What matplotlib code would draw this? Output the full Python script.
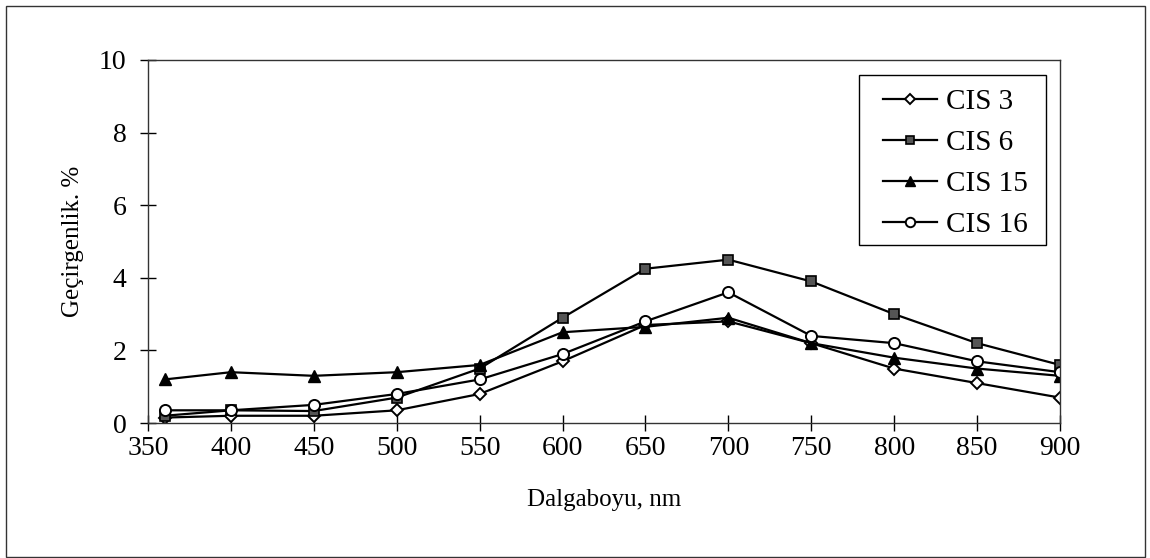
import matplotlib
matplotlib.use("Agg")
import matplotlib.pyplot as plt
from matplotlib.patches import Rectangle

plt.rcParams["font.family"] = ["Liberation Serif", "DejaVu Serif"]

# Wavelength (nm) and transmittance (%) per sample
wavelength = [360, 400, 450, 500, 550, 600, 650, 700, 750, 800, 850, 900]
cis3 = [0.15, 0.2, 0.2, 0.35, 0.8, 1.7, 2.7, 2.8, 2.2, 1.5, 1.1, 0.7]
cis6 = [0.2, 0.35, 0.33, 0.7, 1.5, 2.9, 4.25, 4.5, 3.9, 3.0, 2.2, 1.6]
cis15 = [1.2, 1.4, 1.3, 1.4, 1.6, 2.5, 2.65, 2.9, 2.2, 1.8, 1.5, 1.3]
cis16 = [0.35, 0.35, 0.5, 0.8, 1.2, 1.9, 2.8, 3.6, 2.4, 2.2, 1.7, 1.4]

x_ticks = list(range(350, 901, 50))
y_ticks = [0, 2, 4, 6, 8, 10]

W, H = 1150, 558
fig = plt.figure(figsize=(W / 100, H / 100), dpi=100)
ax = fig.add_axes([0.1287, 0.2419, 0.7930, 0.6506])

lw = 1.6
ax.plot(wavelength, cis3, color="black", lw=lw, marker="D", ms=6.5,
        mfc="white", mec="black", mew=1.4, label="CIS 3")
ax.plot(wavelength, cis6, color="black", lw=lw, marker="s", ms=7.5,
        mfc="#555555", mec="black", mew=1.2, label="CIS 6")
ax.plot(wavelength, cis15, color="black", lw=lw, marker="^", ms=8.5,
        mfc="black", mec="black", label="CIS 15")
ax.plot(wavelength, cis16, color="black", lw=lw, marker="o", ms=8,
        mfc="white", mec="black", mew=1.4, label="CIS 16")

ax.set_xlim(350, 900)
ax.set_ylim(0, 10)
ax.set_xticks(x_ticks)
ax.set_yticks(y_ticks)
ax.tick_params(direction="inout", length=11, width=1, labelsize=20)
ax.tick_params(axis="y", pad=10)
ax.tick_params(axis="x", pad=4)
for s in ax.spines.values():
    s.set_linewidth(1)
    s.set_color("#333333")

ax.set_xlabel("Dalgaboyu, nm", fontsize=18, labelpad=20)
ax.set_ylabel("Geçirgenlik. %", fontsize=18, labelpad=11)

# legend box drawn separately so its padding can differ per side
ax.add_patch(Rectangle((859 / W, 1 - 245 / H), 187 / W, 170 / H,
                       transform=fig.transFigure, facecolor="white",
                       edgecolor="black", lw=1, zorder=4))
ax.legend(loc="upper left", bbox_to_anchor=(0.806, 0.922), fontsize=21,
          frameon=False, handlelength=1.85, handletextpad=0.3, borderpad=0,
          labelspacing=0.5, borderaxespad=0, markerscale=0.85)

# outer frame around the chart
fig.patches.append(Rectangle((6 / W, 1 / H), 1139 / W, 551 / H,
                             transform=fig.transFigure, fill=False,
                             edgecolor="#333333", lw=1))

fig.savefig("out.png", dpi=100)
